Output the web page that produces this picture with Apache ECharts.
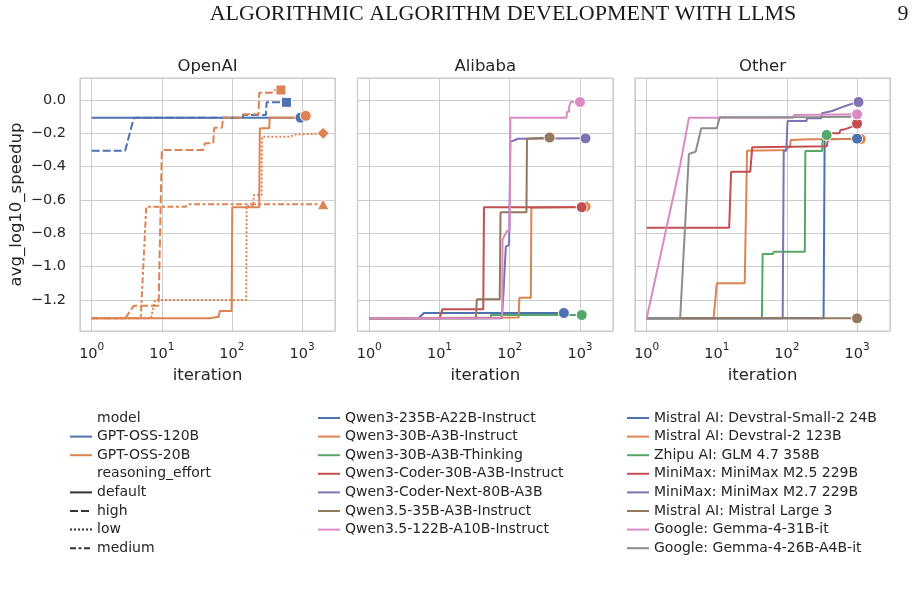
<!DOCTYPE html>
<html><head><meta charset="utf-8">
<script src="https://cdn.jsdelivr.net/npm/echarts@6/dist/echarts.min.js"></script>
<style>html,body{margin:0;padding:0;background:#fff}#c{width:923px;height:598px}</style>
</head><body><div id="c"></div>
<script>
// ---------- data ----------
const panelTitles = ['OpenAI', 'Alibaba', 'Other'];
const headerText = 'ALGORITHMIC ALGORITHM DEVELOPMENT WITH LLMS';
const pageNumber = '9';
const effortLevels = ['default', 'high', 'low', 'medium'];

// OpenAI: [iteration, avg_log10_speedup]
const gpt120Default = [[1,-0.106],[950,-0.106]];
const gpt120High = [[1,-0.304],[3,-0.304],[4,-0.106],[143,-0.106],[145,-0.09],[305,-0.09],[312,-0.014],[600,-0.014]];
const gpt20Default = [[1,-1.31],[48,-1.31],[50,-1.30],[65,-1.30],[67,-1.266],[99,-1.266],[101,-0.644],[245,-0.644],[250,-0.17],[340,-0.17],[347,-0.106],[900,-0.106],[1130,-0.095]];
const gpt20High = [[1,-1.31],[3,-1.31],[4,-1.234],[9,-1.234],[10,-0.30],[39,-0.30],[41,-0.26],[54,-0.26],[56,-0.166],[72,-0.166],[75,-0.106],[140,-0.106],[143,-0.086],[240,-0.086],[245,0.044],[370,0.044],[380,0.06],[500,0.06]];
const gpt20Low = [[1,-1.31],[7,-1.31],[8,-1.2],[160,-1.2],[162,-0.636],[200,-0.636],[205,-0.57],[265,-0.57],[270,-0.22],[700,-0.22],[760,-0.208],[2000,-0.2]];
const gpt20Medium = [[1,-1.31],[5,-1.31],[6,-0.64],[22,-0.64],[23,-0.626],[2000,-0.626]];

// Alibaba
const qwen235 = [[1,-1.31],[5,-1.31],[6,-1.278],[590,-1.278]];
const qwen30Instruct = [[1,-1.31],[134,-1.305],[137,-1.186],[200,-1.186],[203,-0.646],[1200,-0.64]];
const qwen30Thinking = [[1,-1.31],[53,-1.31],[54,-1.29],[1060,-1.29]];
const qwenCoder30 = [[1,-1.31],[10,-1.31],[11,-1.256],[42,-1.256],[43,-0.643],[1057,-0.643]];
const qwenCoderNext = [[1,-1.31],[76,-1.31],[78,-1.28],[82,-1.14],[85,-1.0],[88,-0.88],[98,-0.87],[102,-0.25],[120,-0.24],[130,-0.232],[1200,-0.23]];
const qwen35 = [[1,-1.31],[33,-1.31],[34,-1.196],[72,-1.196],[74,-0.674],[173,-0.674],[176,-0.232],[369,-0.225]];
const qwen122 = [[1,-1.31],[70,-1.31],[78,-1.30],[79,-0.84],[85,-0.81],[92,-0.785],[100,-0.785],[102,-0.106],[645,-0.106],[650,-0.07],[697,-0.07],[700,-0.04],[736,-0.04],[740,-0.012],[1000,-0.012]];

// Other
const devstralSmall = [[1,-1.31],[333,-1.31],[345,-0.236],[1000,-0.232]];
const devstral2 = [[1,-1.31],[9,-1.31],[10,-1.10],[25,-1.10],[27,-0.304],[98,-0.30],[100,-0.285],[111,-0.285],[113,-0.24],[213,-0.236],[220,-0.23],[1130,-0.234]];
const glm47 = [[1,-1.31],[44,-1.31],[45,-0.924],[63,-0.924],[65,-0.91],[180,-0.91],[183,-0.306],[318,-0.306],[325,-0.21],[368,-0.21]];
const minimax25 = [[1,-0.766],[15,-0.766],[16,-0.43],[30,-0.43],[32,-0.283],[370,-0.278],[400,-0.2],[560,-0.2],[580,-0.18],[680,-0.175],[700,-0.165],[850,-0.16],[880,-0.15],[1000,-0.142]];
const minimax27 = [[1,-1.31],[87,-1.31],[90,-0.304],[98,-0.304],[102,-0.126],[190,-0.126],[193,-0.11],[310,-0.11],[316,-0.08],[440,-0.066],[640,-0.04],[830,-0.024],[1050,-0.012]];
const mistralLarge3 = [[1,-1.31],[1000,-1.31]];
const gemma31 = [[1,-1.31],[2,-0.73],[3,-0.39],[4,-0.106],[124,-0.106],[126,-0.09],[1000,-0.086]];
const gemma26 = [[1,-1.31],[3,-1.31],[4,-0.324],[5,-0.31],[6,-0.17],[10,-0.17],[11,-0.104],[300,-0.102],[830,-0.1]];

// ---------- styles ----------
const COL = {blue:'#4c72b0', orange:'#dd8452', green:'#55a868', red:'#c44e52', purple:'#8172b3', brown:'#937860', pink:'#da8bc3', gray:'#8c8c8c'};
const DASH = {default:'solid', high:[8,3], low:[2,2], medium:[6,2.5,3,2.5]};
const MARK = {default:['circle',11], high:['rect',10], low:['diamond',[12,12]], medium:['triangle',[12,11]]};

const openaiRuns = [
  {name:'GPT-OSS-120B', effort:'default', color:COL.blue, data:gpt120Default},
  {name:'GPT-OSS-120B', effort:'high', color:COL.blue, data:gpt120High},
  {name:'GPT-OSS-20B', effort:'default', color:COL.orange, data:gpt20Default},
  {name:'GPT-OSS-20B', effort:'high', color:COL.orange, data:gpt20High},
  {name:'GPT-OSS-20B', effort:'low', color:COL.orange, data:gpt20Low},
  {name:'GPT-OSS-20B', effort:'medium', color:COL.orange, data:gpt20Medium}
];
const alibabaRuns = [
  {name:'Qwen3-235B-A22B-Instruct', color:COL.blue, data:qwen235},
  {name:'Qwen3-30B-A3B-Instruct', color:COL.orange, data:qwen30Instruct},
  {name:'Qwen3-30B-A3B-Thinking', color:COL.green, data:qwen30Thinking},
  {name:'Qwen3-Coder-30B-A3B-Instruct', color:COL.red, data:qwenCoder30},
  {name:'Qwen3-Coder-Next-80B-A3B', color:COL.purple, data:qwenCoderNext},
  {name:'Qwen3.5-35B-A3B-Instruct', color:COL.brown, data:qwen35},
  {name:'Qwen3.5-122B-A10B-Instruct', color:COL.pink, data:qwen122}
];
const otherRuns = [
  {name:'Mistral AI: Devstral-Small-2 24B', color:COL.blue, data:devstralSmall, mz:4},
  {name:'Mistral AI: Devstral-2 123B', color:COL.orange, data:devstral2, mz:3},
  {name:'Zhipu AI: GLM 4.7 358B', color:COL.green, data:glm47},
  {name:'MiniMax: MiniMax M2.5 229B', color:COL.red, data:minimax25},
  {name:'MiniMax: MiniMax M2.7 229B', color:COL.purple, data:minimax27},
  {name:'Mistral AI: Mistral Large 3', color:COL.brown, data:mistralLarge3},
  {name:'Google: Gemma-4-31B-it', color:COL.pink, data:gemma31},
  {name:'Google: Gemma-4-26B-A4B-it', color:COL.gray, data:gemma26, noMarker:true}
];

const TXT = '#262626';
const FONT = 'DejaVu Sans';
const gridBoxes = [[80,78,255,253],[357.5,78,255.5,253],[635,78,255,253]];

const series = [];
function addRuns(runs, gi) {
  runs.forEach(r => {
    const eff = r.effort || 'default';
    series.push({
      type:'line', name:r.name, xAxisIndex:gi, yAxisIndex:gi, data:r.data,
      symbol:'none', showSymbol:false, animation:false, z:2,
      color:r.color, lineStyle:{color:r.color, width:2, type:DASH[eff]},
      emphasis:{disabled:true}
    });
  });
  runs.forEach(r => {
    if (r.noMarker) return;
    const eff = r.effort || 'default';
    const last = r.data[r.data.length - 1];
    series.push({
      type:'scatter', name:r.name + ' (final)', xAxisIndex:gi, yAxisIndex:gi,
      data:[last], symbol:MARK[eff][0], symbolSize:MARK[eff][1], animation:false,
      z: r.mz || 3,
      itemStyle:{color:r.color, borderColor:'#ffffff', borderWidth:1, opacity:1},
      emphasis:{disabled:true}
    });
  });
}
addRuns(openaiRuns, 0);
addRuns(alibabaRuns, 1);
addRuns(otherRuns, 2);
// legend-only entries for the OpenAI legend
['model','reasoning_effort'].forEach(n => series.push({type:'line', name:n, data:[], xAxisIndex:0, yAxisIndex:0, symbol:'none', color:'#ffffff', lineStyle:{width:0}}));
effortLevels.forEach(e => series.push({type:'line', name:e, data:[], xAxisIndex:0, yAxisIndex:0, symbol:'none', color:'#333333', lineStyle:{color:'#333333', width:2, type:DASH[e]}}));

function xLabel(v) {
  const e = Math.log10(v); const r = Math.round(e);
  if (Math.abs(e - r) > 1e-6) return '';
  return '{b|10}{s|' + r + '}';
}
function yLabel(v) {
  const k = Math.round(v / 0.2);
  if (Math.abs(v - k * 0.2) > 1e-6) return '';
  const t = Math.abs(v) < 1e-9 ? '0.0' : v.toFixed(1);
  return t.replace('-', '\u2212');
}

const grids = gridBoxes.map(b => ({left:b[0], top:b[1], width:b[2], height:b[3], show:true, borderColor:'#cccccc', borderWidth:1.25, backgroundColor:'#ffffff', containLabel:false}));
const xAxes = gridBoxes.map((b, i) => ({
  type:'log', logBase:10, gridIndex:i, min:0.681, max:2951,
  axisLine:{show:false}, axisTick:{show:false},
  splitLine:{show:true, lineStyle:{color:'#cccccc', width:1}},
  axisLabel:{formatter:xLabel, margin:11, showMinLabel:false, showMaxLabel:false,
    rich:{b:{fontSize:14.5, fontFamily:FONT, color:TXT, verticalAlign:'bottom', lineHeight:20},
          s:{fontSize:10.5, fontFamily:FONT, color:TXT, verticalAlign:'top', lineHeight:12}}},
  name:'iteration', nameLocation:'middle', nameGap:36,
  nameTextStyle:{fontSize:16.5, fontFamily:FONT, color:TXT}
}));
const yAxes = gridBoxes.map((b, i) => ({
  type:'value', gridIndex:i, min:-1.386, max:0.132, splitNumber:7, minInterval:0.2, maxInterval:0.2,
  axisLine:{show:false}, axisTick:{show:false},
  splitLine:{show:true, lineStyle:{color:'#cccccc', width:1}},
  axisLabel:{show:i === 0, formatter:yLabel, margin:14, fontSize:14.5, fontFamily:FONT, color:TXT},
  name: i === 0 ? 'avg_log10_speedup' : '', nameLocation:'middle', nameGap:55,
  nameTextStyle:{fontSize:16.5, fontFamily:FONT, color:TXT}
}));

const titles = panelTitles.map((t, i) => ({
  text:t, left:gridBoxes[i][0] + gridBoxes[i][2] / 2, top:58, textAlign:'center', padding:0,
  textStyle:{fontSize:16.5, fontFamily:FONT, color:TXT, fontWeight:'normal'}
}));
titles.push({text:headerText, left:503, top:3, textAlign:'center', padding:0,
  textStyle:{fontSize:22, fontFamily:'Liberation Serif', color:'#1a1a1a', fontWeight:'normal'}});
titles.push({text:pageNumber, left:903, top:3, textAlign:'center', padding:0,
  textStyle:{fontSize:22, fontFamily:'Liberation Serif', color:'#1a1a1a', fontWeight:'normal'}});

const legendBase = {orient:'vertical', itemWidth:22, itemHeight:14, itemGap:4.6, padding:0, selectedMode:false,
  itemStyle:{opacity:0, borderWidth:0},
  textStyle:{fontSize:14, fontFamily:FONT, color:TXT, lineHeight:14}};
const legends = [
  Object.assign({}, legendBase, {left:69, top:411, data:[{name:'model', icon:'none'}, 'GPT-OSS-120B', 'GPT-OSS-20B', {name:'reasoning_effort', icon:'none'}].concat(effortLevels)}),
  Object.assign({}, legendBase, {left:317, top:411, data:alibabaRuns.map(r => r.name)}),
  Object.assign({}, legendBase, {left:626, top:411, data:otherRuns.map(r => r.name)})
];

const chart = echarts.init(document.getElementById('c'), null, {renderer:'canvas'});
chart.setOption({
  animation:false, backgroundColor:'#ffffff',
  title:titles, legend:legends, grid:grids, xAxis:xAxes, yAxis:yAxes, series:series
});
</script>
</body></html>
